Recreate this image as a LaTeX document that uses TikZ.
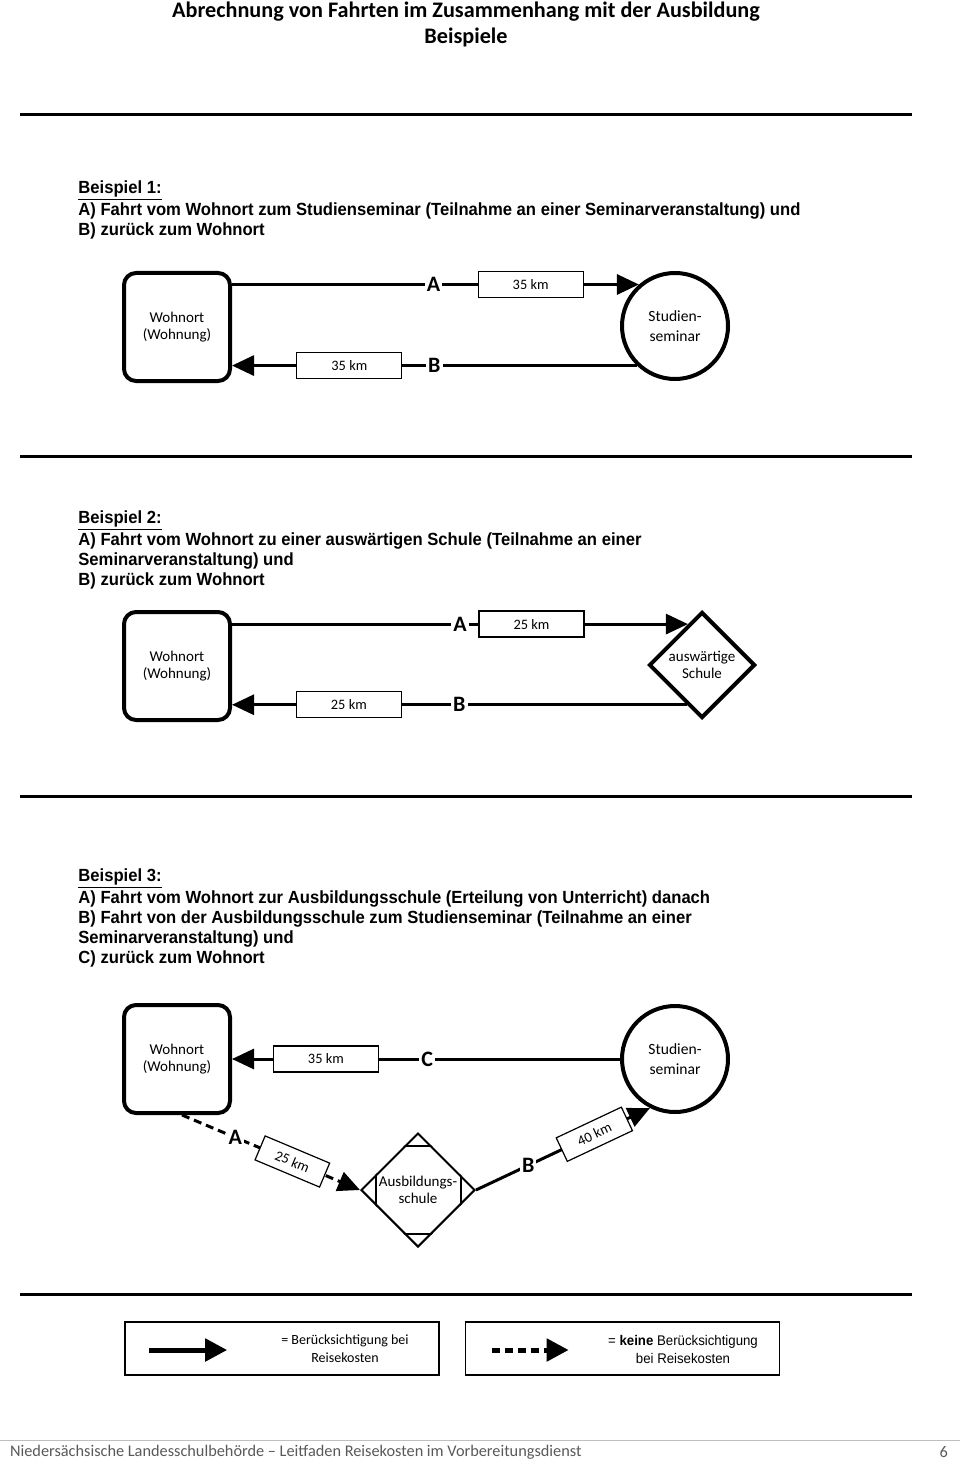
\documentclass[tikz,border=0pt]{standalone}
\usepackage{fontspec}
\setmainfont{Carlito}
\newfontfamily\arialfont[FakeStretch=0.945]{Liberation Sans}
\usetikzlibrary{arrows.meta,calc,positioning,shapes.geometric}

\begin{document}
\begin{tikzpicture}[
  x=0.5pt,y=-0.5pt,
  line join=miter,
  every node/.style={font=\fontsize{7.5}{8.8}\selectfont},
  homebox/.style={draw,rounded corners=6pt,line width=2pt,minimum width=53pt,minimum height=54pt,align=center,inner sep=0pt},
  seminar/.style={draw,circle,line width=2pt,minimum size=53pt,align=center,inner sep=0pt,font=\fontsize{7.8}{10}\selectfont},
  school/.style={draw,diamond,aspect=1,line width=2pt,minimum width=53pt,minimum height=53pt,align=center,inner sep=0pt},
  trip/.style={line width=1.5pt,-{Triangle[length=11pt,width=10pt]}},
  freetrip/.style={trip,dash pattern=on 4pt off 2.5pt},
  kmbox/.style={draw,solid,fill=white,line width=0.6pt,minimum width=52.5pt,minimum height=13pt,inner sep=0pt,font=\fontsize{7.2}{8}\selectfont},
  stopmark/.style={fill=white,inner sep=1pt,font=\fontsize{11}{12}\selectfont\bfseries},
  sepline/.style={line width=1.5pt},
  bodytext/.style={anchor=north west,align=left,inner sep=0pt,font=\arialfont\bfseries\fontsize{8.8}{10}\selectfont},
  legbox/.style={draw,line width=0.8pt,minimum width=157pt,minimum height=26.5pt,inner sep=0pt},
  legarrow/.style={line width=2.5pt,-{Triangle[length=11pt,width=11pt]}}
]
% Page frame.
\useasboundingbox (0,0) rectangle (960,1465);

% Heading.
\node[font=\fontsize{11.1}{12}\selectfont\bfseries] (title) at (466,12) {Abrechnung von Fahrten im Zusammenhang mit der Ausbildung};
\node[font=\fontsize{11.1}{12}\selectfont\bfseries] (subtitle) at (466,37) {Beispiele};
\draw[sepline] (20,115) -- (912,115);

% Beispiel 1.
\node[bodytext] (text1) at (78,180) {\underline{Beispiel 1:}\\A) Fahrt vom Wohnort zum Studienseminar (Teilnahme an einer Seminarveranstaltung) und\\B) zurück zum Wohnort};
\node[homebox] (wohn1) at (177,327) {Wohnort\\(Wohnung)};
\node[seminar] (semi1) at (675,326) {Studien-\\seminar};
\draw[trip] (wohn1.east |- semi1.131) -- node[stopmark,pos=.495]{A} node[kmbox,pos=.734]{35 km} (semi1.131);
\draw[trip] (semi1.226) -- node[stopmark,pos=.5]{B} node[kmbox,pos=.71]{35 km} (wohn1.east |- semi1.226);
\draw[sepline] (20,456) -- (912,456);

% Beispiel 2.
\node[bodytext] (text2) at (78,510) {\underline{Beispiel 2:}\\A) Fahrt vom Wohnort zu einer auswärtigen Schule (Teilnahme an einer\\Seminarveranstaltung) und\\B) zurück zum Wohnort};
\node[homebox] (wohn2) at (177,666) {Wohnort\\(Wohnung)};
\node[school] (schule2) at (702,665) {auswärtige\\Schule};
\draw[trip] (wohn2.east |- schule2.109) -- node[stopmark,pos=.5]{A} node[kmbox,pos=.657]{25 km} (schule2.109);
\draw[trip] (schule2.249) -- node[stopmark,pos=.5]{B} node[kmbox,pos=.743]{25 km} (wohn2.east |- schule2.249);
\draw[sepline] (20,796) -- (912,796);

% Beispiel 3.
\node[bodytext] (text3) at (78,868) {\underline{Beispiel 3:}\\A) Fahrt vom Wohnort zur Ausbildungsschule (Erteilung von Unterricht) danach\\B) Fahrt von der Ausbildungsschule zum Studienseminar (Teilnahme an einer\\Seminarveranstaltung) und\\C) zurück zum Wohnort};
\node[homebox] (wohn3) at (177,1059) {Wohnort\\(Wohnung)};
\node[seminar] (semi3) at (675,1059) {Studien-\\seminar};
\node[school,line width=1pt,minimum width=57pt,minimum height=57pt] (schule3) at (418,1190) {Ausbildungs-\\schule};
\begin{scope}
  \clip (schule3.north) -- (schule3.east) -- (schule3.south) -- (schule3.west) -- cycle;
  \draw[line width=1pt,shift={(schule3.center)}] (-42,-44) rectangle (43,44);
\end{scope}
\draw[trip] (semi3.west) -- node[stopmark,pos=.497]{C} node[kmbox,pos=.758]{35 km} (wohn3.east);
\draw[freetrip] ($(wohn3.south)+(5,0)$) -- node[stopmark,pos=.3]{A} node[kmbox,sloped,minimum width=35pt,pos=.62]{25 km} (schule3.west);
\draw[trip] (schule3.east) -- node[stopmark,pos=.3]{B} node[kmbox,sloped,minimum width=36pt,pos=.68]{40 km} (semi3.243);
\draw[sepline] (20,1294) -- (912,1294);

% Legend.
\node[legbox] (legsolid) at (282,1348.5) {};
\node[legbox] (legdash) at (622.5,1348.5) {};
\coordinate (solidtail) at ($(legsolid.west)+(25,1.5)$);
\coordinate (solidtip) at ($(legsolid.west)+(103,1.5)$);
\draw[legarrow] (solidtail) -- (solidtip);
\node[align=center,font=\fontsize{7}{9}\selectfont] (solidtext) at (345,1349) {= Berücksichtigung bei\\Reisekosten};
\coordinate (dashtail) at ($(legdash.west)+(27,1.5)$);
\coordinate (dashtip) at ($(legdash.west)+(104,1.5)$);
\draw[legarrow,dash pattern=on 4pt off 2.5pt] (dashtail) -- (dashtip);
\node[align=center,font=\arialfont\fontsize{7}{9}\selectfont] (dashtext) at (683,1349) {= \textbf{keine} Berücksichtigung\\bei Reisekosten};

% Footer.
\draw[black!25,line width=0.5pt] (0,1440) -- (960,1440);
\node[anchor=west,text=black!65,font=\fontsize{8.15}{9}\selectfont] (footer) at (3,1452) {Niedersächsische Landesschulbehörde – Leitfaden Reisekosten im Vorbereitungsdienst};
\node[anchor=east,text=black!65,font=\fontsize{8.15}{9}\selectfont] (pagenum) at (955,1452) {6};
\end{tikzpicture}
\end{document}
